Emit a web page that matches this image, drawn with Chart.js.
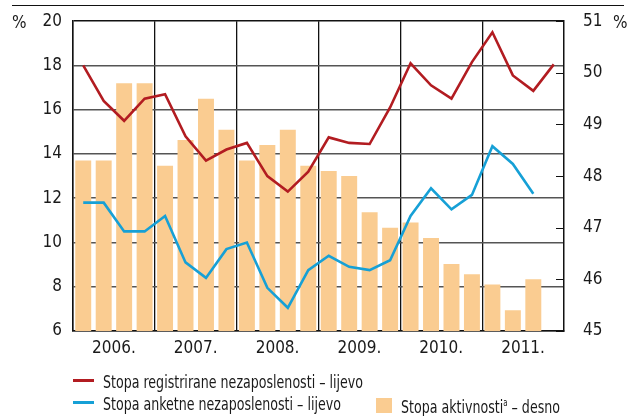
<!DOCTYPE html>
<html>
<head>
<meta charset="utf-8">
<script src="https://cdn.jsdelivr.net/npm/chart.js@4"></script>
<style>
  body { margin: 0; background: #fff; }
  #wrap { position: relative; width: 636px; height: 416px; font-family: 'Liberation Sans Narrow', 'Arial Narrow', 'DejaVu Sans Condensed', sans-serif; color: #1a1a1a; }
  #topline { position: absolute; left: 12px; top: 5px; width: 612px; height: 1px; background: #111; }
  .pct { position: absolute; top: 12px; font-size: 17px; }
  .leg { position: absolute; font-size: 18px; white-space: nowrap; line-height: 18px; transform: scaleX(0.78); transform-origin: 0 0; }
  .swl { position: absolute; width: 21px; height: 3px; }
  .sq { position: absolute; width: 16px; height: 15px; background: rgb(250, 204, 145); }
  .sup { font-size: 10px; line-height: 0; position: relative; top: -7px; }
</style>
</head>
<body>
<div id="wrap">
  <canvas id="c" width="636" height="416"></canvas>
  <div id="topline"></div>
  <span class="pct" style="left:12px">%</span>
  <span class="pct" style="left:613px">%</span>
  <div class="swl" style="left:73px; top:379px; background: rgb(178, 28, 33)"></div>
  <div class="leg" style="left:103px; top:373px">Stopa registrirane nezaposlenosti – lijevo</div>
  <div class="swl" style="left:73px; top:401px; background: rgb(22, 160, 214)"></div>
  <div class="leg" style="left:103px; top:395px">Stopa anketne nezaposlenosti – lijevo</div>
  <div class="sq" style="left:376px; top:398px"></div>
  <div class="leg" style="left:401px; top:398px">Stopa aktivnosti<span class="sup">a</span> – desno</div>
</div>
<script>
// quarters 2006 - 2011
const quarters = ['I.06','II.06','III.06','IV.06','I.07','II.07','III.07','IV.07',
  'I.08','II.08','III.08','IV.08','I.09','II.09','III.09','IV.09',
  'I.10','II.10','III.10','IV.10','I.11','II.11','III.11','IV.11'];
const years = ['2006.', '2007.', '2008.', '2009.', '2010.', '2011.'];

// left axis, %
const registered = [18.0, 16.4, 15.5, 16.5, 16.7, 14.8, 13.7, 14.2,
  14.5, 13.0, 12.3, 13.2, 14.75, 14.5, 14.45, 16.1,
  18.1, 17.1, 16.5, 18.15, 19.5, 17.55, 16.85, 18.05];
const survey = [11.8, 11.8, 10.5, 10.5, 11.2, 9.1, 8.4, 9.7,
  10.0, 7.95, 7.05, 8.75, 9.4, 8.9, 8.75, 9.2,
  11.2, 12.45, 11.5, 12.15, 14.35, 13.55, 12.2];
// right axis, %
const activity = [48.3, 48.3, 49.8, 49.8, 48.2, 48.7, 49.5, 48.9,
  48.3, 48.6, 48.9, 48.2, 48.1, 48.0, 47.3, 47.0,
  47.1, 46.8, 46.3, 46.1, 45.9, 45.4, 46.0];

const FONT = "'Liberation Sans Narrow', 'Arial Narrow', 'DejaVu Sans Condensed', sans-serif";

const innerTicks = {
  id: 'innerTicks',
  afterDraw(chart) {
    const s = chart.scales.y1, ctx = chart.ctx;
    ctx.save();
    ctx.strokeStyle = '#111';
    ctx.lineWidth = 1;
    s.ticks.forEach(t => {
      const y = Math.round(s.getPixelForValue(t.value)) + 0.5;
      ctx.beginPath();
      ctx.moveTo(chart.chartArea.right - 8, y);
      ctx.lineTo(chart.chartArea.right, y);
      ctx.stroke();
    });
    ctx.restore();
  }
};

new Chart(document.getElementById('c'), {
  type: 'bar',
  data: {
    labels: quarters,
    datasets: [
      { type: 'line', data: registered, yAxisID: 'y', borderColor: 'rgb(178, 28, 33)', borderWidth: 2.6, pointRadius: 0, tension: 0, order: 1 },
      { type: 'line', data: survey, yAxisID: 'y', borderColor: 'rgb(22, 160, 214)', borderWidth: 2.6, pointRadius: 0, tension: 0, order: 1 },
      { type: 'bar', data: activity, yAxisID: 'y1', backgroundColor: 'rgb(250, 204, 145)', barPercentage: 0.78, categoryPercentage: 1, order: 2 }
    ]
  },
  options: {
    responsive: false,
    animation: false,
    layout: { padding: { top: 21, left: 0, right: 0, bottom: 0 } },
    plugins: { legend: { display: false }, tooltip: { enabled: false } },
    scales: {
      x: {
        grid: {
          drawTicks: false,
          lineWidth: 1.3,
          color: c => (c.index % 4 === 0 ? '#111' : 'rgba(0,0,0,0)')
        },
        border: { color: '#111', width: 1.5 },
        ticks: {
          autoSkip: false, maxRotation: 0, minRotation: 0,
          padding: 7, labelOffset: 10.2,
          color: '#1a1a1a', font: { family: FONT, size: 17 },
          callback: (v, i) => (i % 4 === 1 ? years[(i - 1) / 4] : '')
        },
        afterFit: s => { s.height = 85; }
      },
      y: {
        position: 'left', min: 6, max: 20,
        grid: {
          drawTicks: false,
          lineWidth: 1.6,
          color: c => (c.tick && c.tick.value === 20 ? '#111' : '#555')
        },
        border: { color: '#111', width: 1.5 },
        ticks: { stepSize: 2, padding: 11, color: '#1a1a1a', font: { family: FONT, size: 17 } },
        afterFit: s => { s.width = 73; }
      },
      y1: {
        position: 'right', min: 45, max: 51,
        grid: { display: false, drawOnChartArea: false },
        border: { color: '#111', width: 1.5 },
        ticks: { stepSize: 1, padding: 11, color: '#1a1a1a', font: { family: FONT, size: 17 } },
        afterFit: s => { s.width = 72; }
      }
    }
  },
  plugins: [innerTicks]
});
</script>
</body>
</html>
